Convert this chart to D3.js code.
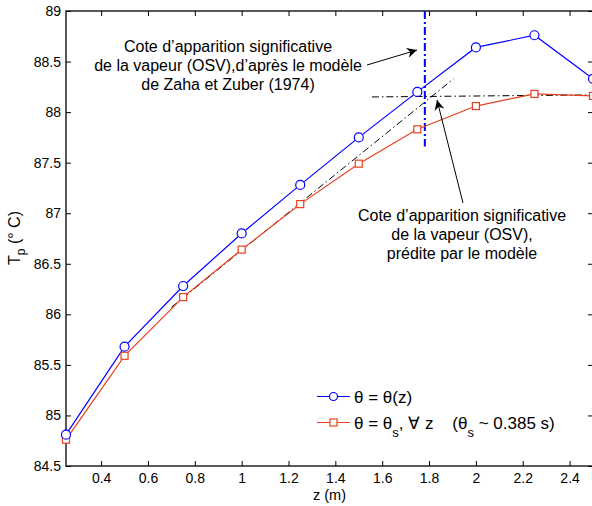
<!DOCTYPE html>
<html><head><meta charset="utf-8">
<script src="https://cdn.jsdelivr.net/npm/d3@7"></script>
<style>body{margin:0;background:#fff}svg{display:block;font-family:"Liberation Sans",Arial,Helvetica,sans-serif}</style>
</head><body><svg id="c" width="592" height="506"></svg>
<script>
const zValues = [0.25, 0.5, 0.75, 1.0, 1.25, 1.5, 1.75, 2.0, 2.25, 2.5];
const tpTheta = [84.81, 85.68, 86.28, 86.80, 87.28, 87.75, 88.20, 88.64, 88.76, 88.33];
const tpThetaS = [84.76, 85.59, 86.17, 86.64, 87.09, 87.49, 87.83, 88.06, 88.18, 88.16];
const xTicks = [0.4, 0.6, 0.8, 1, 1.2, 1.4, 1.6, 1.8, 2, 2.2, 2.4];
const yTicks = [84.5, 85, 85.5, 86, 86.5, 87, 87.5, 88, 88.5, 89];
const tangentLine = [[0.7, 86.07], [1.905, 88.33]];
const plateauLine = [[1.556, 88.15], [2.5, 88.17]];
const osvZaha = [[1.782, 89], [1.782, 87.66]];
const annotZaha = ["Cote d’apparition significative", "de la vapeur (OSV),d’après le modèle", "de Zaha et Zuber (1974)"];
const annotModel = ["Cote d’apparition significative", "de la vapeur (OSV),", "prédite par le modèle"];

const svg = d3.select("#c");
const x = d3.scaleLinear().domain([0.25, 2.5]).range([66, 593]);
const y = d3.scaleLinear().domain([84.5, 89]).range([466, 11]);
const BLUE = "#0000ff", RED = "#e8401c";

const defs = svg.append("defs");
defs.append("marker").attr("id","ah").attr("viewBox","0 0 10 10").attr("refX",10).attr("refY",5)
  .attr("markerWidth",14).attr("markerHeight",10).attr("markerUnits","userSpaceOnUse").attr("orient","auto")
  .append("path").attr("d","M0,0 L10,5 L0,10 L3,5 Z").attr("fill","#000");

// frame
svg.append("rect").attr("x",66).attr("y",11).attr("width",593-66).attr("height",466-11)
  .attr("fill","none").attr("stroke","#000").attr("stroke-width",1.3);

// axes
const tk = 5;
const gx = svg.append("g").attr("transform","translate(0,466)")
  .call(d3.axisBottom(x).tickValues(xTicks).tickSize(-tk).tickPadding(7).tickFormat(d3.format("")));
const gxt = svg.append("g").attr("transform","translate(0,11)")
  .call(d3.axisTop(x).tickValues(xTicks).tickSize(-tk).tickFormat(""));
const gy = svg.append("g").attr("transform","translate(66,0)")
  .call(d3.axisLeft(y).tickValues(yTicks).tickSize(-tk).tickPadding(10).tickFormat(d3.format("")));
const gyr = svg.append("g").attr("transform","translate(593,0)")
  .call(d3.axisRight(y).tickValues(yTicks).tickSize(-tk).tickFormat(""));
[gx,gxt,gy,gyr].forEach(g=>{g.select(".domain").remove();
  g.selectAll("line").attr("stroke","#000").attr("stroke-width",1);
  g.selectAll("text").attr("fill","#000").style("font-size","14px").style("font-family","'Liberation Sans',Arial,sans-serif");});
gy.selectAll("text").attr("x",-5);

// axis titles
svg.append("text").attr("x",329.5).attr("y",500).attr("text-anchor","middle").style("font-size","14.5px").text("z (m)");
const yl = svg.append("text").attr("transform","translate(20,238) rotate(-90)").attr("text-anchor","middle").style("font-size","16px");
yl.append("tspan").text("T");
yl.append("tspan").attr("dy",5).style("font-size","12px").text("p");
yl.append("tspan").attr("dy",-5).text(" (° C)");

const line = d3.line().x(d=>x(d[0])).y(d=>y(d[1]));

// reference lines
svg.append("path").attr("d",line(tangentLine)).attr("fill","none").attr("stroke","#000").attr("stroke-width",1).attr("stroke-dasharray","7,3,1.5,3");
svg.append("path").attr("d",line(plateauLine)).attr("fill","none").attr("stroke","#000").attr("stroke-width",1).attr("stroke-dasharray","7,3,1.5,3");
svg.append("path").attr("d",line(osvZaha)).attr("fill","none").attr("stroke",BLUE).attr("stroke-width",2).attr("stroke-dasharray","8,3,2,3");

// series
const blueData = zValues.map((z,i)=>[z,tpTheta[i]]);
const redData = zValues.map((z,i)=>[z,tpThetaS[i]]);
svg.append("path").attr("d",line(redData)).attr("fill","none").attr("stroke",RED).attr("stroke-width",1.2);
svg.append("path").attr("d",line(blueData)).attr("fill","none").attr("stroke",BLUE).attr("stroke-width",1.2);
svg.selectAll(".sq").data(redData).enter().append("rect").attr("x",d=>x(d[0])-3.5).attr("y",d=>y(d[1])-3.5)
  .attr("width",7).attr("height",7).attr("fill","#fff").attr("stroke",RED).attr("stroke-width",1.2);
svg.selectAll(".ci").data(blueData).enter().append("circle").attr("cx",d=>x(d[0])).attr("cy",d=>y(d[1]))
  .attr("r",4.5).attr("fill","#fff").attr("stroke",BLUE).attr("stroke-width",1.2);

// annotations
const a1 = svg.append("text").attr("text-anchor","middle").style("font-size","16px");
annotZaha.forEach((t,i)=>a1.append("tspan").attr("x",228).attr("y",52+i*19).text(t));
const a2 = svg.append("text").attr("text-anchor","middle").style("font-size","16px");
annotModel.forEach((t,i)=>a2.append("tspan").attr("x",462).attr("y",221+i*19).text(t));
svg.append("line").attr("x1",367).attr("y1",65).attr("x2",417).attr("y2",50).attr("stroke","#000").attr("stroke-width",1).attr("marker-end","url(#ah)");
svg.append("line").attr("x1",463).attr("y1",203).attr("x2",437).attr("y2",100).attr("stroke","#000").attr("stroke-width",1).attr("marker-end","url(#ah)");

// legend
const lg = svg.append("g");
lg.append("line").attr("x1",317).attr("x2",350).attr("y1",396.5).attr("y2",396.5).attr("stroke",BLUE).attr("stroke-width",1.2);
lg.append("circle").attr("cx",333.5).attr("cy",396.5).attr("r",4).attr("fill","#fff").attr("stroke",BLUE).attr("stroke-width",1.2);
lg.append("line").attr("x1",317).attr("x2",350).attr("y1",422.5).attr("y2",422.5).attr("stroke",RED).attr("stroke-width",1.2);
lg.append("rect").attr("x",330).attr("y",419).attr("width",7).attr("height",7).attr("fill","#fff").attr("stroke",RED).attr("stroke-width",1.2);
lg.append("text").attr("x",354).attr("y",402.5).style("font-size","17px").text("θ = θ(z)");
const t2 = lg.append("text").attr("x",354).attr("y",428.5).style("font-size","17px").style("white-space","pre");
t2.append("tspan").text("θ = θ");
t2.append("tspan").attr("dy",8).style("font-size","13px").text("s");
t2.append("tspan").attr("dy",-8).text(", ∀ z    (θ");
t2.append("tspan").attr("dy",8).style("font-size","13px").text("s");
t2.append("tspan").attr("dy",-8).text(" ~ 0.385 s)");
</script></body></html>
